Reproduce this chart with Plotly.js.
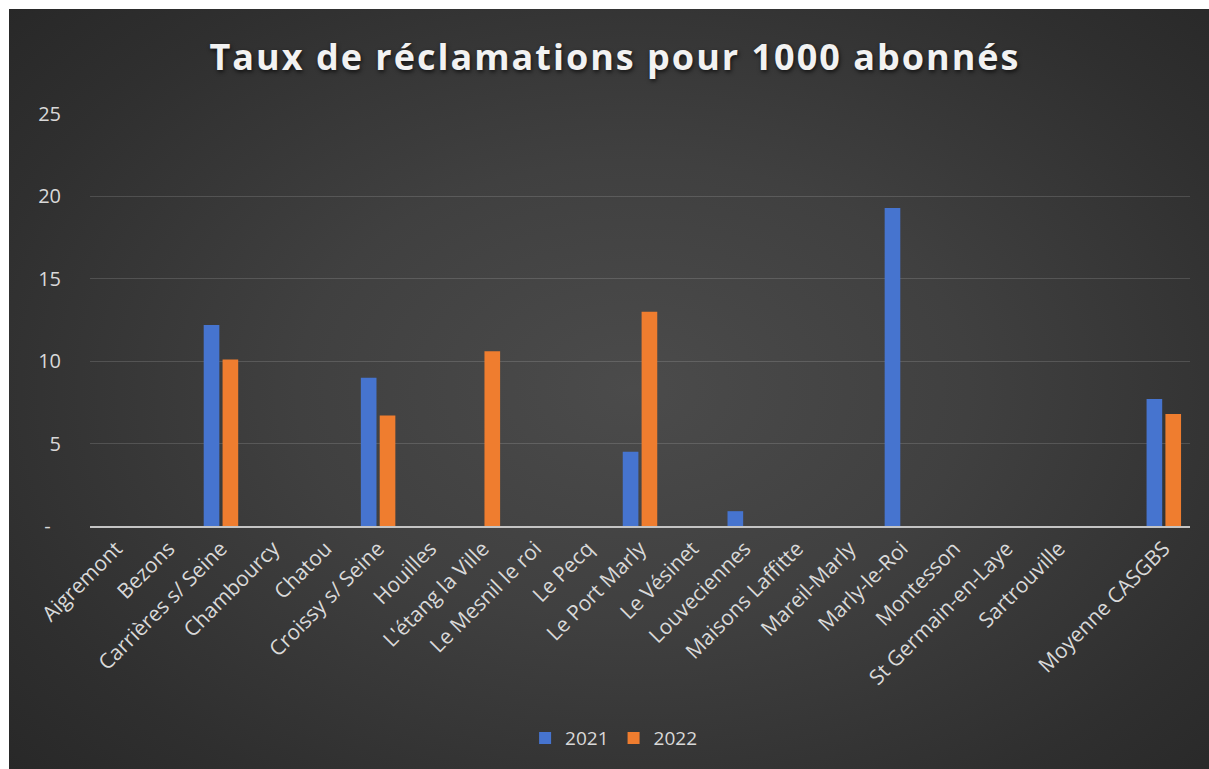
<!DOCTYPE html>
<html>
<head>
<meta charset="utf-8">
<script src="https://cdn.plot.ly/plotly-3.0.1.min.js"></script>
<style>
  html, body { margin: 0; padding: 0; background: #ffffff; width: 1209px; height: 769px; overflow: hidden; }
  #frame {
    position: absolute; left: 9px; top: 9px; width: 1200px; height: 760px;
    background: radial-gradient(ellipse 70% 75% at 52% 50%, #4b4b4b 0%, #404040 40%, #2f2f2f 80%, #282828 100%);
  }
  #chart { position: absolute; left: 0; top: 0; width: 1200px; height: 760px; }
  #chart .gtitle { letter-spacing: 2px; }
</style>
</head>
<body>
<div id="frame"><div id="chart"></div></div>
<script>
// ---- data ----
const categories = [
  "Aigremont", "Bezons", "Carrières s/ Seine", "Chambourcy", "Chatou",
  "Croissy s/ Seine", "Houilles", "L'étang la Ville", "Le Mesnil le roi", "Le Pecq",
  "Le Port Marly", "Le Vésinet", "Louveciennes", "Maisons Laffitte", "Mareil-Marly",
  "Marly-le-Roi", "Montesson", "St Germain-en-Laye", "Sartrouville", "\u00a0",
  "Moyenne CASGBS"
];
const values2021 = [0, 0, 12.2, 0, 0, 9.0, 0, 0, 0, 0, 4.5, 0, 0.9, 0, 0, 19.3, 0, 0, 0, null, 7.7];
const values2022 = [0, 0, 10.1, 0, 0, 6.7, 0, 10.6, 0, 0, 13.0, 0, 0, 0, 0, 0, 0, 0, 0, null, 6.8];
const seriesNames = ["2021", "2022"];
const yTickVals = [0, 5, 10, 15, 20, 25];
const yTickText = ["-\u00a0\u00a0", "5", "10", "15", "20", "25"];
const titleText = "Taux de réclamations pour 1000 abonnés";

const FONT = "Open Sans, Noto Sans, sans-serif";
const LABEL = "#d9d9d9";

const traces = [
  { type: "bar", name: seriesNames[0], x: categories, y: values2021,
    marker: { color: "#4674cf" }, hoverinfo: "x+y+name" },
  { type: "bar", name: seriesNames[1], x: categories, y: values2022,
    marker: { color: "#ef7d2f" }, hoverinfo: "x+y+name" }
];

const layout = {
  width: 1200, height: 760,
  paper_bgcolor: "rgba(0,0,0,0)",
  plot_bgcolor: "rgba(0,0,0,0)",
  margin: { l: 81, r: 19, t: 105, b: 243 },
  title: {
    text: titleText,
    x: 0.505, xref: "container", xanchor: "center",
    y: 0.936, yref: "container", yanchor: "middle",
    font: { family: FONT, size: 36, color: "#f2f2f2", weight: 700, shadow: "1px 2px 4px rgba(0,0,0,0.7)" }
  },
  barmode: "group",
  bargap: 0.28,
  bargroupgap: 0.17,
  showlegend: true,
  legend: {
    orientation: "h", x: 0.476, xanchor: "center", y: -0.515, yanchor: "middle",
    font: { family: FONT, size: 19, color: LABEL },
    bgcolor: "rgba(0,0,0,0)", itemwidth: 30, traceorder: "normal"
  },
  xaxis: {
    type: "category",
    categoryorder: "array", categoryarray: categories,
    tickangle: -45,
    tickfont: { family: FONT, size: 21, color: LABEL },
    showgrid: false,
    showline: true, linecolor: "#c4c4c4", linewidth: 2,
    ticks: "", automargin: false, fixedrange: true
  },
  yaxis: {
    range: [0, 25],
    tickvals: yTickVals, ticktext: yTickText,
    tickfont: { family: FONT, size: 20, color: LABEL },
    showgrid: true, gridcolor: "rgba(255,255,255,0.14)", gridwidth: 1,
    zeroline: false, showline: false,
    ticks: "outside", ticklen: 24, tickcolor: "rgba(0,0,0,0)",
    automargin: false, fixedrange: true
  }
};

Plotly.newPlot("chart", traces, layout, { displayModeBar: false, staticPlot: true });
</script>
</body>
</html>
